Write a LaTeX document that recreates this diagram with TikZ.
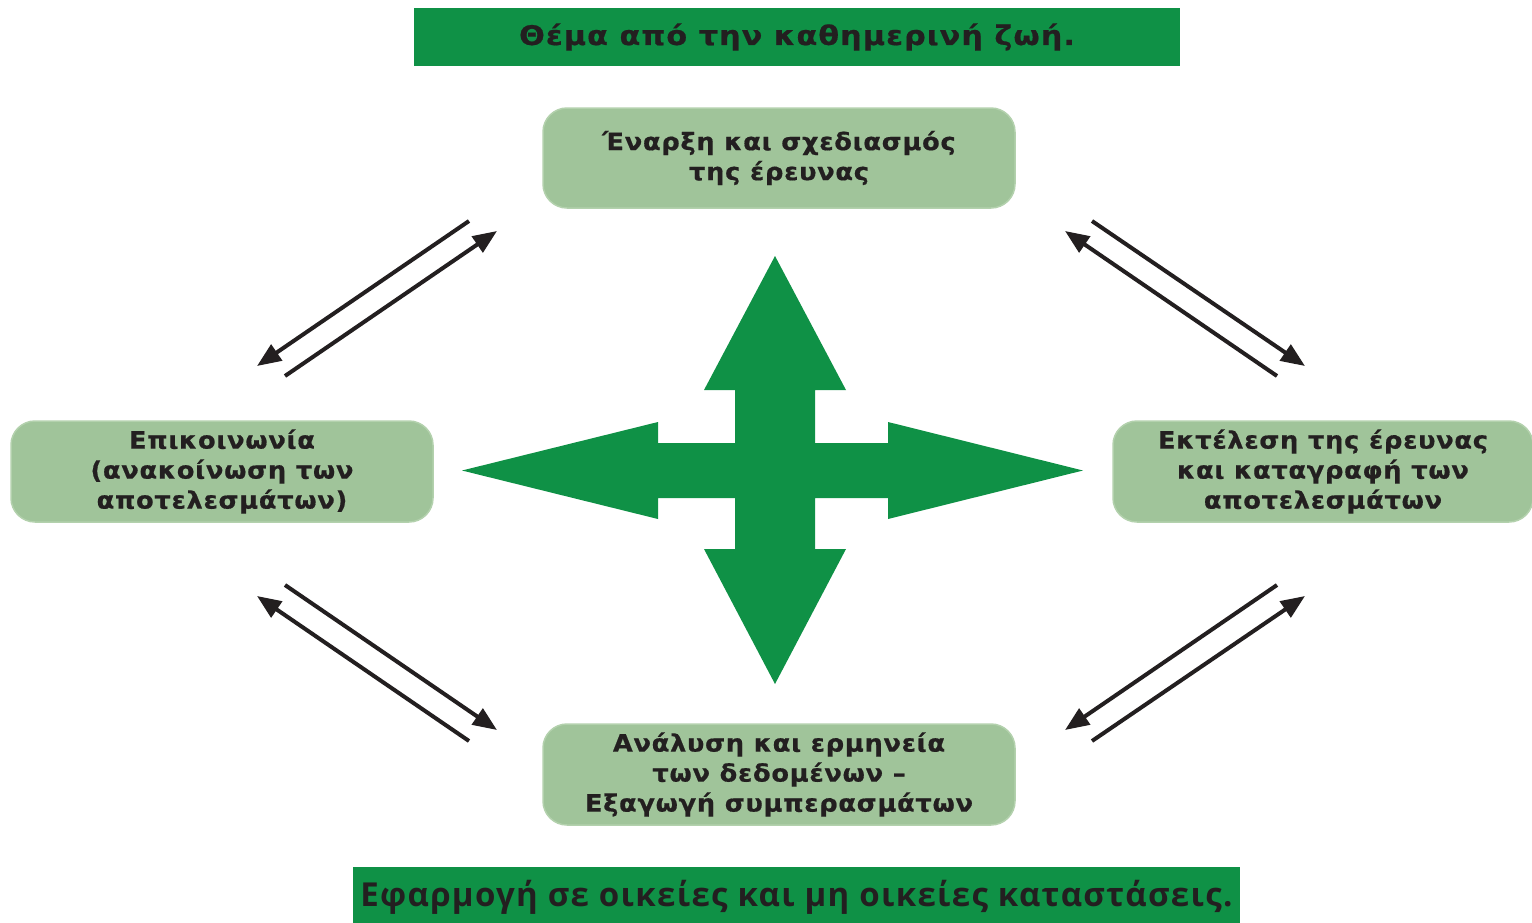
\documentclass[tikz,border=0pt]{standalone}
\usepackage{fontspec}
\setmainfont{DejaVu Sans}
\newfontfamily\boxfont[FakeStretch=1.07,LetterSpace=3,FakeBold=0.6]{DejaVu Sans}
\newfontfamily\topfont[FakeStretch=1.12,LetterSpace=4,FakeBold=0.6]{DejaVu Sans}
\newfontfamily\condfont[LetterSpace=4]{Open Sans}
\usetikzlibrary{arrows.meta}
\definecolor{dgreen}{HTML}{0F9146}
\definecolor{sage}{HTML}{A0C49A}
\definecolor{sageedge}{HTML}{B3D1AD}
\definecolor{ink}{HTML}{231F20}
\tikzset{
  banner/.style={fill=dgreen, draw=none, inner sep=0pt, text=ink},
  stagebox/.style={fill=sage, draw=sageedge, line width=1.5pt, rounded corners=24pt, inner sep=0pt, align=center, text=ink, font=\boxfont\fontsize{24}{30}\selectfont\bfseries},
  flow/.style={line width=4pt, draw=ink, -{Triangle[length=24pt,width=19pt]}},
}
\begin{document}
\begin{tikzpicture}[x=1pt,y=-1pt]
\path[use as bounding box] (0,0) rectangle (1532,922);
% banners
\node[banner, minimum width=766pt, minimum height=58pt, font=\topfont\fontsize{27}{30}\selectfont\bfseries] (topban) at (797,37) {Θέμα από την καθημερινή ζωή.};
\node[banner, minimum width=887pt, minimum height=60pt, font=\condfont\fontsize{33}{36}\selectfont\bfseries] (botban) at (796.5,897) {Εφαρμογή σε οικείες και μη οικείες καταστάσεις.};
% boxes
\node[stagebox, minimum width=472pt, minimum height=100pt] (start) at (779,158) {Έναρξη και σχεδιασμός\\της έρευνας};
\node[stagebox, minimum width=422pt, minimum height=101pt] (comm) at (222,471.5) {Επικοινωνία\\(ανακοίνωση των\\αποτελεσμάτων)};
\node[stagebox, minimum width=420pt, minimum height=101pt] (exec) at (1323,471.5) {Εκτέλεση της έρευνας\\και καταγραφή των\\αποτελεσμάτων};
\node[stagebox, minimum width=472pt, minimum height=101pt] (anal) at (779,774.5) {Ανάλυση και ερμηνεία\\των δεδομένων –\\Εξαγωγή συμπερασμάτων};
% cross
\fill[dgreen] (775,256) -- (846,390) -- (815,390) -- (815,443) -- (888,443) -- (888,422) -- (1083,470.5) -- (888,519) -- (888,498) -- (815,498) -- (815,549) -- (846,549) -- (775,684) -- (704,549) -- (735,549) -- (735,498) -- (658,498) -- (658,519) -- (462,470.5) -- (658,422) -- (658,443) -- (735,443) -- (735,390) -- (704,390) -- cycle;
% arrow end points
\coordinate (a1) at (469,221); \coordinate (a2) at (257,366);
\coordinate (b1) at (285,376); \coordinate (b2) at (497,231);
\coordinate (c1) at (1092,221); \coordinate (c2) at (1305,366);
\coordinate (d1) at (1277,376); \coordinate (d2) at (1065,231);
\coordinate (e1) at (285,585); \coordinate (e2) at (497,730);
\coordinate (f1) at (469,741); \coordinate (f2) at (257,596);
\coordinate (g1) at (1277,585); \coordinate (g2) at (1065,730);
\coordinate (h1) at (1092,741); \coordinate (h2) at (1305,596);
\draw[flow] (a1) -- (a2);
\draw[flow] (b1) -- (b2);
\draw[flow] (c1) -- (c2);
\draw[flow] (d1) -- (d2);
\draw[flow] (e1) -- (e2);
\draw[flow] (f1) -- (f2);
\draw[flow] (g1) -- (g2);
\draw[flow] (h1) -- (h2);
\end{tikzpicture}
\end{document}
